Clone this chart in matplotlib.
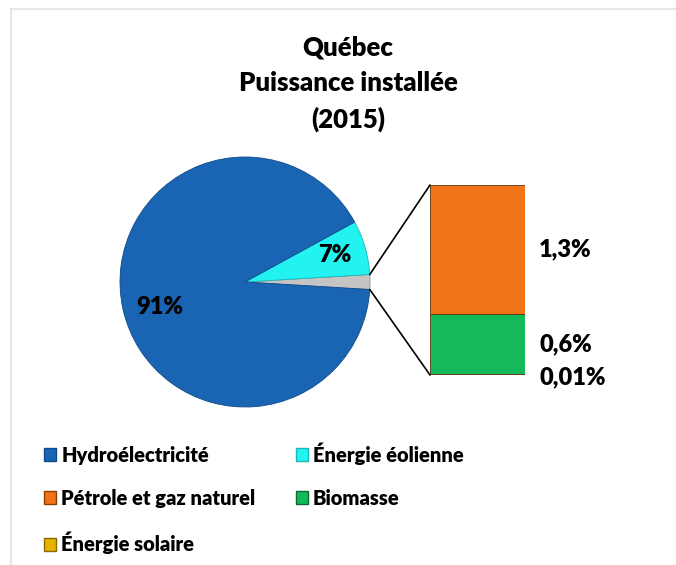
import matplotlib.pyplot as plt
from matplotlib.patches import ConnectionPatch, Patch, Rectangle
import numpy as np

plt.rcParams['font.family'] = ['Lato', 'DejaVu Sans']
plt.rcParams['font.weight'] = 'heavy'

# pie data
pie_labels = ['Hydroélectricité', 'Énergie éolienne', 'Autres']
pie_values = [91.0, 7.0, 1.91]
pie_text = ['91%', '7%', '']
pie_colors = ['#1a64b4', '#22f2f0', '#c4c4c4']

# bar of pie data (bottom to top)
bar_labels = ['Énergie solaire', 'Biomasse', 'Pétrole et gaz naturel']
bar_values = [0.01, 0.6, 1.3]
bar_text = ['0,01%', '0,6%', '1,3%']
bar_colors = ['#e8b400', '#14b95a', '#f07416']

W, H = 676, 565
FS = 17
fig = plt.figure(figsize=(W / 100, H / 100), dpi=100)

# chart frame
fig.add_artist(Rectangle((11 / W, -0.05), 1.0, 1 - 9 / H + 0.05, transform=fig.transFigure,
                         fill=False, edgecolor='#e6e6e6', linewidth=1.5))

fig.text(348 / W, 1 - 84 / H, 'Québec\nPuissance installée\n(2015)', ha='center', va='center',
         fontsize=18.5, fontweight='heavy', linespacing=1.55)

# pie axes: center (245,282), radius 125 px
cx, cy, r = 245, 282, 125
ax_pie = fig.add_axes([(cx - r) / W, (H - cy - r) / H, 2 * r / W, 2 * r / H])
# reorder so that the "other" slice is centred on 0 deg
order = [2, 1, 0]
vals = [pie_values[i] for i in order]
cols = [pie_colors[i] for i in order]
start = -pie_values[2] / sum(pie_values) * 360 / 2
wedges, _ = ax_pie.pie(vals, colors=cols, startangle=start, counterclock=True, radius=1,
                       wedgeprops=dict(edgecolor='#0e4a8a', linewidth=0.6))
wedges[0].set_edgecolor('#8a8a8a')
wedges[1].set_edgecolor('#18b8b8')
ax_pie.set_xlim(-1, 1)
ax_pie.set_ylim(-1, 1)
ax_pie.axis('off')
ax_pie.text(-0.68, -0.2, pie_text[0], ha='center', va='center', fontsize=FS)
ax_pie.text(0.72, 0.22, pie_text[1], ha='center', va='center', fontsize=FS)

# bar axes: x 430-525, y 185-375 px
bx0, bx1, by0, by1 = 430, 525, 185, 375
ax_bar = fig.add_axes([bx0 / W, (H - by1) / H, (bx1 - bx0) / W, (by1 - by0) / H])
bottom = 0
for v, c, t in zip(bar_values, bar_colors, bar_text):
    ax_bar.bar(0, v, bottom=bottom, width=1, color=c, edgecolor='#5a3a10', linewidth=0.6)
    yy = bottom + v / 2
    if v < 0.05:
        yy = bottom - 0.02
    ax_bar.text(0.65, yy, t, ha='left', va='center', fontsize=FS)
    bottom += v
total = sum(bar_values)
ax_bar.set_xlim(-0.5, 0.5)
ax_bar.set_ylim(0, total)
ax_bar.axis('off')

# connector lines
theta = np.pi * pie_values[2] / sum(pie_values)
for sgn, yb in [(1, total), (-1, 0)]:
    con = ConnectionPatch(xyA=(-0.5, yb), coordsA=ax_bar.transData,
                          xyB=(np.cos(theta), sgn * np.sin(theta)), coordsB=ax_pie.transData,
                          color='black', linewidth=1.2)
    fig.add_artist(con)

# legend
handles = [Patch(facecolor=pie_colors[0], edgecolor='#0e4a8a'),
           Patch(facecolor=bar_colors[2], edgecolor='#8a4000'),
           Patch(facecolor=bar_colors[0], edgecolor='#8a6a00'),
           Patch(facecolor=pie_colors[1], edgecolor='#18b8b8'),
           Patch(facecolor=bar_colors[1], edgecolor='#0a6a30')]
labels = [pie_labels[0], bar_labels[2], bar_labels[0], pie_labels[1], bar_labels[1]]
fig.legend(handles, labels, ncol=2, loc='upper left', bbox_to_anchor=(26 / W, 1 - 424 / H),
           frameon=False, prop={'weight': 'heavy', 'size': 14.5},
           handlelength=0.6, handleheight=0.6, handletextpad=0.25,
           labelspacing=1.2, columnspacing=2.0)

fig.savefig('out.png', dpi=100)
